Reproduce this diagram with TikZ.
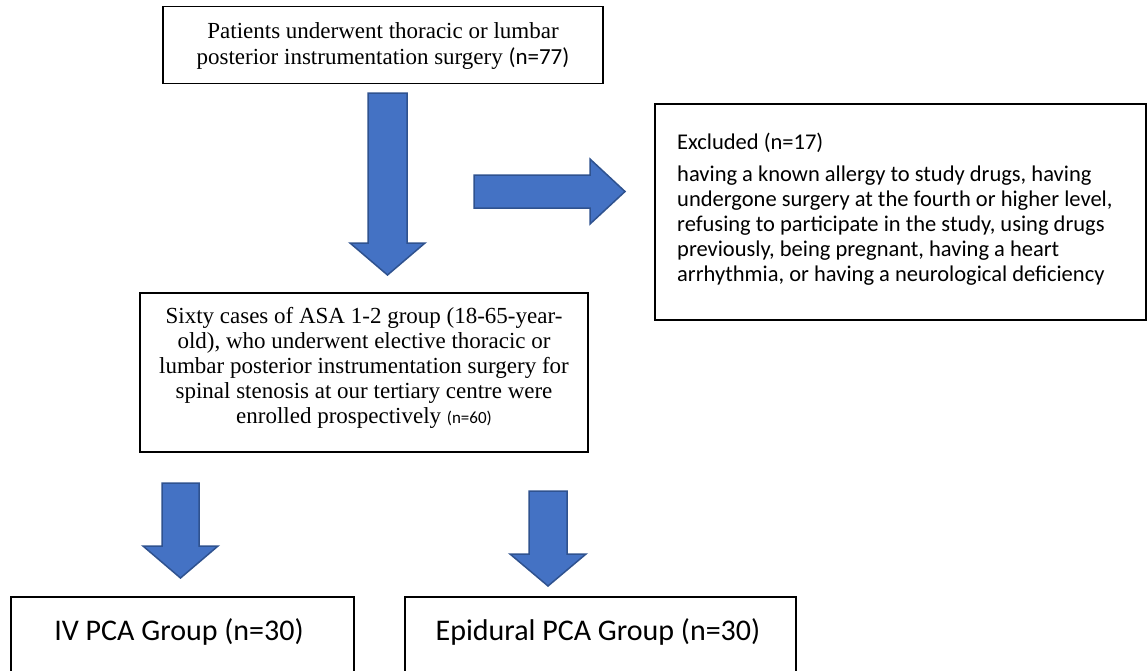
\documentclass[tikz,border=0pt]{standalone}
\usepackage{fontspec}
\setmainfont{Liberation Serif}
\newfontfamily\carl{Carlito}
\definecolor{arrowfill}{HTML}{4472C4}
\definecolor{arrowline}{HTML}{2F528F}
\begin{document}
\begin{tikzpicture}[x=1pt,y=-1pt]
\tikzset{
  box/.style={draw=black, line width=1.6pt, inner sep=0pt},
  txt/.style={inner sep=0pt, align=center},
  blockarrow/.style={fill=arrowfill, draw=arrowline, line width=1.5pt, line join=miter}
}
\useasboundingbox (0,0) rectangle (1148,670);
\fill[white] (0,0) rectangle (1148,670);

% boxes
\node[box, minimum width=440pt, minimum height=77pt] (top) at (383,45) {};
\node[txt, font=\fontsize{23}{26}\selectfont] (toptext) at (383,46)
  {Patients underwent thoracic or lumbar\\posterior instrumentation surgery {\carl\fontsize{23}{26}\selectfont (n=77)}};

\node[box, minimum width=448pt, minimum height=159pt] (mid) at (364,372.5) {};
\node[txt, font=\fontsize{23}{25}\selectfont] (midtext) at (364,368)
  {Sixty cases of ASA 1-2 group (18-65-year-\\old), who underwent elective thoracic or\\lumbar posterior instrumentation surgery for\\spinal stenosis at our tertiary centre were\\enrolled prospectively {\carl\fontsize{17}{25}\selectfont (n=60)}};

\node[box, minimum width=491pt, minimum height=216pt] (excl) at (900.5,212) {};
\node[txt, anchor=west, font=\carl\fontsize{22.5}{25}\selectfont] (excltitle) at (677,143) {Excluded (n=17)};
\node[txt, anchor=west, align=left, font=\carl\fontsize{22.5}{25}\selectfont] (excltext) at (677,226)
  {having a known allergy to study drugs, having\\undergone surgery at the fourth or higher level,\\refusing to participate in the study, using drugs\\previously, being pregnant, having a heart\\arrhythmia, or having a neurological deficiency};

\node[box, minimum width=343pt, minimum height=90pt] (iv) at (182.5,642) {};
\node[txt, font=\carl\fontsize{30}{34}\selectfont] (ivtext) at (179,632) {IV PCA Group (n=30)};

\node[box, minimum width=391pt, minimum height=90pt] (epi) at (600.5,642) {};
\node[txt, font=\carl\fontsize{30}{34}\selectfont] (epitext) at (598,632) {Epidural PCA Group (n=30)};

% block arrows
\draw[blockarrow] (368,93) -- (407,93) -- (407,243) -- (425,243) -- (387.5,275) -- (350,243) -- (368,243) -- cycle;
\draw[blockarrow] (474,175) -- (590,175) -- (590,159) -- (625,191.5) -- (590,224) -- (590,208) -- (474,208) -- cycle;
\draw[blockarrow] (162,483) -- (199,483) -- (199,546) -- (218,546) -- (180.5,578) -- (143,546) -- (162,546) -- cycle;
\draw[blockarrow] (529,491) -- (567,491) -- (567,554) -- (586,554) -- (548,586) -- (510,554) -- (529,554) -- cycle;
\end{tikzpicture}
\end{document}
